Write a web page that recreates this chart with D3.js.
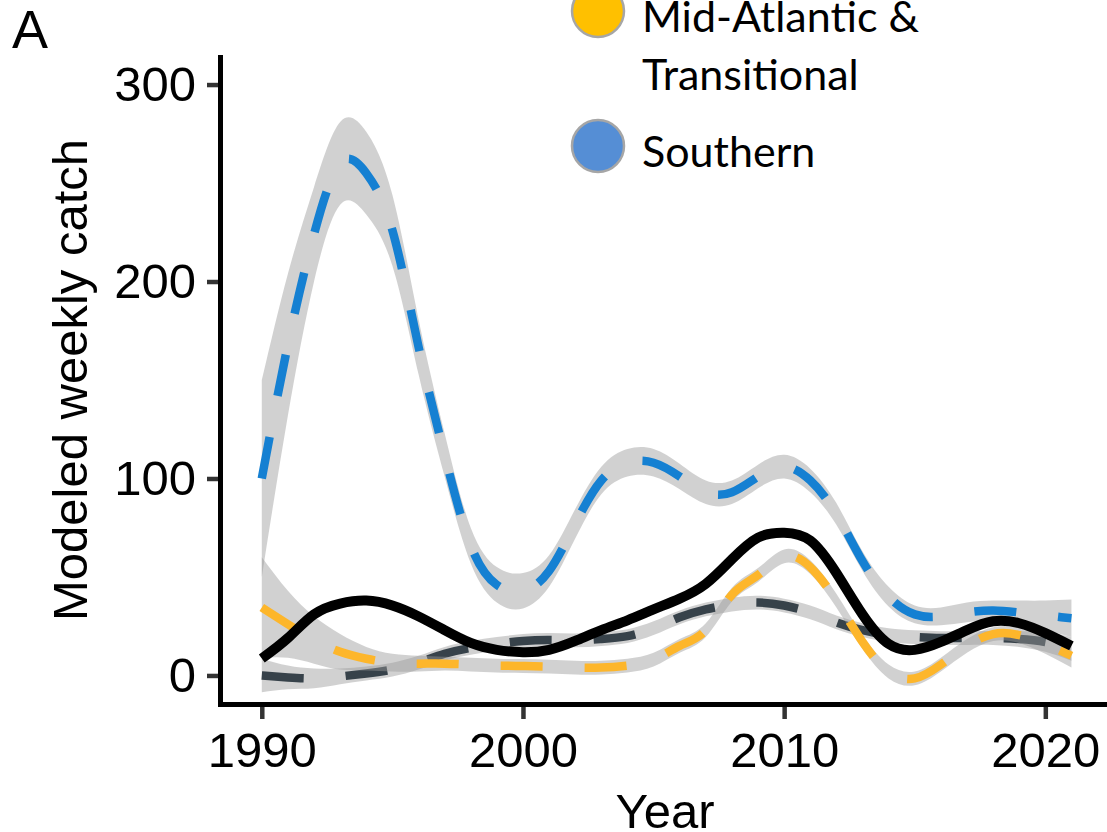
<!DOCTYPE html>
<html>
<head>
<meta charset="utf-8">
<script src="https://cdn.jsdelivr.net/npm/d3@7"></script>
<style>
  body { margin: 0; background: #fff; }
  svg { display: block; }
</style>
</head>
<body>
<div id="chart"></div>
<script>
let years = [1990, 1991, 1992, 1993, 1994, 1995, 1996, 1997, 1998, 1999,
             2000, 2001, 2002, 2003, 2004, 2005, 2006, 2007, 2008, 2009,
             2010, 2011, 2012, 2013, 2014, 2015, 2016, 2017, 2018, 2019,
             2020, 2021];

// Southern (blue, dashed) fit and ribbon half width
let southern = [100, 168, 224, 260, 255, 226, 167, 112, 66, 46,
                43, 53, 77, 99, 108, 108, 101, 93, 93, 101,
                106, 99, 82, 58, 40, 31, 30, 32, 33, 32,
                30.5, 29];
let southernSE = [50, 36, 24, 21, 21, 18, 14, 11, 9, 9,
                  9, 8, 7.5, 7, 7, 7, 6.5, 6, 6, 6,
                  6, 6, 5.5, 5, 5, 4.5, 4.5, 5, 5, 6,
                  7.5, 9.5];

// Mid-Atlantic & Transitional (yellow, dashed)
let midAtlantic = [34.5, 26, 18, 12, 8.5, 6.5, 6, 6, 5.5, 5,
                   4.8, 4.5, 4, 4, 5, 8, 15, 23, 41, 51,
                   60.5, 55, 38, 17, 2, -1.5, 5.5, 15, 21, 20.5,
                   16, 10];
let midAtlanticSE = [25.5, 17, 12, 9, 6, 4.5, 4, 3.5, 3.5, 3.5,
                     3.5, 3.5, 3.5, 3.5, 3.5, 3.5, 3.5, 3.5, 3.5, 3.5,
                     3.5, 3.5, 3.5, 3.5, 3.5, 3.5, 3.5, 3.5, 3.5, 4,
                     5, 6];

// third region (dark grey, dashed)
let northern = [0, -1, -1.5, -0.5, 1, 3, 6.5, 11, 14, 16,
                17.5, 18, 17.8, 18.5, 20, 24, 29.5, 33.5, 36, 37,
                35.5, 32, 27, 23, 20.5, 19.5, 19, 19, 19, 18.5,
                17, 13.5];
let northernSE = [8.5, 6, 5, 4, 3.5, 3.5, 3.5, 3.5, 3.5, 3.5,
                  3.5, 3.5, 3.5, 3.5, 3.5, 3.5, 3.5, 3.5, 3.5, 3.5,
                  3.5, 3.5, 3.5, 3.5, 3.5, 3.5, 3.5, 3.5, 3.5, 4,
                  5, 6];

// all regions (black, solid)
let coastwide = [8.6, 19, 31, 36.5, 38, 35.5, 30, 23, 16.5, 13,
                 11.8, 13, 17.5, 23, 28, 33.5, 39, 46.5, 59, 70,
                 72.5, 68.5, 52, 31, 16, 13, 17, 23, 27.5, 26.5,
                 21.5, 15];

let xTicks = [1990, 2000, 2010, 2020];
let yTicks = [0, 100, 200, 300];
let legendItems = [
    {lines: ["Mid-Atlantic &", "Transitional"], color: "#ffc000"},
    {lines: ["Southern"], color: "#558ed5"}
];

let width = 1107, height = 832;

let svg = d3.select("#chart").append("svg")
    .attr("width", width)
    .attr("height", height);

svg.append("rect").attr("width", width).attr("height", height).attr("fill", "#fff");

let x = d3.scaleLinear().domain([1988.4, 2022.4]).range([220, 1108]);
let y = d3.scaleLinear().domain([-15, 315]).range([705, 55]);

let axisFont = "'Liberation Sans', Arial, Helvetica, sans-serif";

function series(vals, se) {
    return years.map((yr, i) => ({yr: yr, v: vals[i], se: se ? se[i] : 0}));
}

let line = d3.line()
    .x(d => x(d.yr))
    .y(d => y(d.v))
    .curve(d3.curveNatural);

let band = d3.area()
    .x(d => x(d.yr))
    .y0(d => y(d.v - d.se))
    .y1(d => y(d.v + d.se))
    .curve(d3.curveNatural);

// same draw order as the plot: ribbon then line for each group
let groups = [
    {data: series(northern, northernSE), color: "#37424a"},
    {data: series(midAtlantic, midAtlanticSE), color: "#fdb62b"},
    {data: series(southern, southernSE), color: "#1580d2"}
];

let plot = svg.append("g");

groups.forEach(g => {
    plot.append("path")
        .datum(g.data)
        .attr("d", band)
        .attr("fill", "#999")
        .attr("fill-opacity", 0.45);
    plot.append("path")
        .datum(g.data)
        .attr("d", line)
        .attr("fill", "none")
        .attr("stroke", g.color)
        .attr("stroke-width", 8.5)
        .attr("stroke-dasharray", "42,42");
});

plot.append("path")
    .datum(series(coastwide))
    .attr("d", line)
    .attr("fill", "none")
    .attr("stroke", "#000")
    .attr("stroke-width", 10);

// axes
let yAxis = svg.append("g")
    .attr("transform", "translate(220,0)")
    .call(d3.axisLeft(y).tickValues(yTicks).tickSize(13).tickPadding(11));
let xAxis = svg.append("g")
    .attr("transform", "translate(0,705)")
    .call(d3.axisBottom(x).tickValues(xTicks).tickSize(14).tickPadding(13).tickFormat(d3.format("d")));

[yAxis, xAxis].forEach(a => {
    a.select(".domain").remove();
    a.selectAll(".tick line").attr("stroke", "#333").attr("stroke-width", 4.5);
    a.selectAll(".tick text")
        .attr("fill", "#000")
        .style("font-family", axisFont)
        .style("font-size", "49px");
});

svg.append("line")
    .attr("x1", 220.5).attr("x2", 220.5)
    .attr("y1", 55).attr("y2", 707)
    .attr("stroke", "#000").attr("stroke-width", 5);
svg.append("line")
    .attr("x1", 218).attr("x2", width)
    .attr("y1", 704.5).attr("y2", 704.5)
    .attr("stroke", "#000").attr("stroke-width", 5);

svg.append("text")
    .attr("transform", "translate(87,380) rotate(-90)")
    .attr("text-anchor", "middle")
    .style("font-family", axisFont)
    .style("font-size", "49px")
    .text("Modeled weekly catch");

svg.append("text")
    .attr("x", 665).attr("y", 828)
    .attr("text-anchor", "middle")
    .style("font-family", axisFont)
    .style("font-size", "49px")
    .text("Year");

svg.append("text")
    .attr("x", 12).attr("y", 48)
    .style("font-family", axisFont)
    .style("font-size", "54px")
    .text("A");

// legend (cut at the top, as in the figure)
let legendY = [11, 146];
let legend = svg.selectAll(".legend")
    .data(legendItems)
    .join(enter => enter.append("g")
        .attr("class", "legend")
        .attr("transform", (d, i) => `translate(598,${legendY[i]})`));

legend.append("circle")
    .attr("r", 26)
    .attr("fill", d => d.color)
    .attr("stroke", "#a6a6a6")
    .attr("stroke-width", 2.5);

legend.selectAll("text")
    .data(d => d.lines)
    .join("text")
    .attr("x", 44)
    .attr("y", (d, i) => 21 + i * 58)
    .style("font-family", "Lato, 'Open Sans', sans-serif")
    .style("font-size", "43px")
    .attr("fill", "#000")
    .text(d => d);
</script>
</body>
</html>
